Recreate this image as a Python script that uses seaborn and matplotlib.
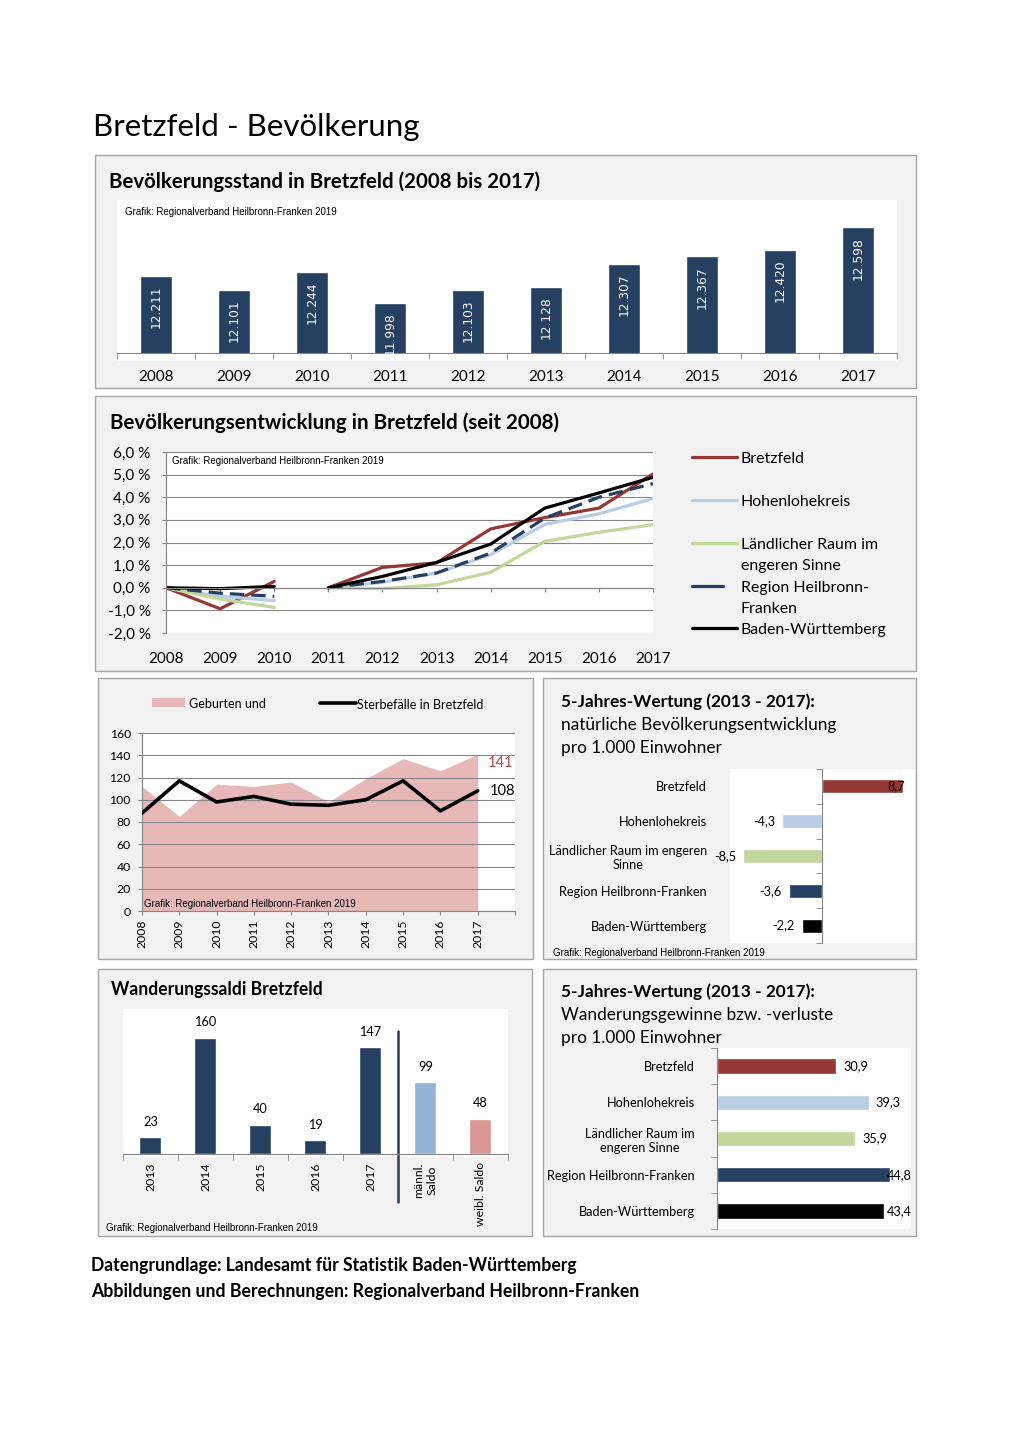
import numpy as np
import matplotlib
matplotlib.use("Agg")
import matplotlib.pyplot as plt
import seaborn as sns
from matplotlib.patches import Rectangle
from matplotlib.lines import Line2D

# ---------------- data ----------------
years = ['2008', '2009', '2010', '2011', '2012', '2013', '2014', '2015', '2016', '2017']
population = [12211, 12101, 12244, 11998, 12103, 12128, 12307, 12367, 12420, 12598]

dev_bretzfeld = [0.0, -0.93, 0.28, 0.0, 0.90, 1.10, 2.60, 3.10, 3.52, 5.03]
dev_hohenlohe = [0.0, -0.38, -0.57, 0.0, 0.24, 0.65, 1.46, 2.80, 3.27, 3.94]
dev_laendlich = [0.0, -0.50, -0.87, 0.0, -0.04, 0.13, 0.68, 2.05, 2.45, 2.79]
dev_region = [0.0, -0.24, -0.38, 0.0, 0.28, 0.65, 1.53, 3.08, 4.00, 4.60]
dev_bw = [0.0, -0.04, 0.06, 0.0, 0.50, 1.12, 1.93, 3.52, 4.19, 4.88]
dev_ticks = [-2, -1, 0, 1, 2, 3, 4, 5, 6]

births = [112, 85, 114, 112, 116, 98, 119, 137, 126, 141]
deaths = [88, 117, 98, 103, 96, 95, 100, 117, 90, 108]

natural_labels = ['Bretzfeld', 'Hohenlohekreis', 'Ländlicher Raum im engeren\nSinne',
                  'Region Heilbronn-Franken', 'Baden-Württemberg']
natural_balance = [8.7, -4.3, -8.5, -3.6, -2.2]

migration_labels = ['2013', '2014', '2015', '2016', '2017', 'männl.\nSaldo', 'weibl. Saldo']
migration_values = [23, 160, 40, 19, 147, 99, 48]

rate_labels = ['Bretzfeld', 'Hohenlohekreis', 'Ländlicher Raum im\nengeren Sinne',
               'Region Heilbronn-Franken', 'Baden-Württemberg']
migration_rate = [30.9, 39.3, 35.9, 44.8, 43.4]

legend_labels = ['Bretzfeld', 'Hohenlohekreis', 'Ländlicher Raum im\nengeren Sinne',
                 'Region Heilbronn-\nFranken', 'Baden-Württemberg']

# ---------------- style ----------------
RED = '#953735'
LBLUE = '#b9cde5'
GREEN = '#c3d69b'
NAVY = '#254061'
BLACK = '#000000'
PINK = '#e6b9b8'
GRAY = '#868686'
PANEL = '#f2f2f2'
region_colors = [RED, LBLUE, GREEN, NAVY, BLACK]
mig_colors = [NAVY] * 5 + ['#95b3d7', '#d99694']

sns.set_style("white")
plt.rcParams['font.family'] = ['Lato', 'DejaVu Sans']
plt.rcParams['text.color'] = 'black'
plt.rcParams['xtick.color'] = 'black'
plt.rcParams['ytick.color'] = 'black'

W, H = 1020, 1443
fig = plt.figure(figsize=(W / 100, H / 100), dpi=100)
fig.patch.set_facecolor('white')
renderer = fig.canvas.get_renderer()


def fx(x):
    return x / W


def fy(y):
    return 1 - y / H


def add_ax(x0, y0, x1, y1):
    ax = fig.add_axes([fx(x0), fy(y1), (x1 - x0) / W, (y1 - y0) / H])
    ax.set_facecolor('white')
    return ax


def rect(x0, y0, x1, y1, fc, ec='none', z=-2):
    fig.add_artist(Rectangle((fx(x0), fy(y1)), (x1 - x0) / W, (y1 - y0) / H,
                             transform=fig.transFigure, fc=fc, ec=ec, lw=1, zorder=z))


def ftext(x, y, s, size=10, width=None, dy=2, **kw):
    kw.setdefault('va', 'center')
    t = fig.text(fx(x), fy(y + dy), s, fontsize=size, **kw)
    if width:
        w = t.get_window_extent(renderer).width
        t.set_fontsize(size * width / w)
    return t


def grafik(x, y):
    return ftext(x, y, 'Grafik: Regionalverband Heilbronn-Franken 2019', size=7, width=213,
                 dy=1, family=['Liberation Sans', 'DejaVu Sans'])


def comma(v, d=1):
    return f"{v:.{d}f}".replace('.', ',')


# ---------------- panels background ----------------
rect(95, 155, 916, 388, PANEL, '#a6a6a6')
rect(95, 396, 916, 671, PANEL, '#a6a6a6')
rect(98, 678, 533, 959, PANEL, '#a6a6a6')
rect(543, 678, 916, 959, PANEL, '#a6a6a6')
rect(98, 969, 532, 1236, PANEL, '#a6a6a6')
rect(543, 969, 916, 1236, PANEL, '#a6a6a6')
rect(117, 200, 897, 361, 'white', z=-1)
rect(123, 1009, 508, 1157, 'white', z=-1)

# ---------------- titles ----------------
ftext(93, 124, 'Bretzfeld - Bevölkerung', size=22, width=326, dy=3)
ftext(109, 180, 'Bevölkerungsstand in Bretzfeld (2008 bis 2017)', size=14, width=433, weight='bold')
ftext(110, 421, 'Bevölkerungsentwicklung in Bretzfeld (seit 2008)', size=14, width=452, weight='bold')
t = ftext(561, 700, '5-Jahres-Wertung (2013 - 2017):', size=12, width=252, weight='bold')
s5 = t.get_fontsize()
ftext(561, 723, 'natürliche Bevölkerungsentwicklung', size=s5)
ftext(561, 746, 'pro 1.000 Einwohner', size=s5)
ftext(111, 988, 'Wanderungssaldi Bretzfeld', size=12, width=211, weight='bold')
ftext(561, 990, '5-Jahres-Wertung (2013 - 2017):', size=s5, weight='bold')
ftext(561, 1013, 'Wanderungsgewinne bzw. -verluste', size=s5)
ftext(561, 1036, 'pro 1.000 Einwohner', size=s5)
t = ftext(91, 1264, 'Datengrundlage: Landesamt für Statistik Baden-Württemberg', size=12, width=484, weight='bold')
ftext(91, 1289, 'Abbildungen und Berechnungen: Regionalverband Heilbronn-Franken', size=t.get_fontsize(), weight='bold')

# ---------------- Panel A: population bars ----------------
axA = add_ax(117, 201, 897, 353)
sns.barplot(x=years, y=population, color=NAVY, width=0.4, saturation=1, ax=axA)
axA.set_ylim(11600, 12808)
axA.set_xlim(-0.5, 9.5)
for s in ['top', 'right', 'left']:
    axA.spines[s].set_visible(False)
axA.spines['bottom'].set_color(GRAY)
axA.set_yticks([])
axA.set_xticks(range(10), years)
axA.set_xticks(np.arange(-0.5, 10, 1), minor=True)
axA.tick_params(axis='x', which='major', length=0, pad=12, labelsize=11)
axA.tick_params(axis='x', which='minor', bottom=True, length=4, color=GRAY, direction='out')
axA.set_xlabel('')
axA.set_ylabel('')
for i, v in enumerate(population):
    axA.annotate(f"{v:,}".replace(',', '.'), (i, v), xytext=(0, -7), textcoords='offset points',
                 rotation=90, ha='center', va='top', color='white', fontsize=8.8,
                 family=['DejaVu Sans'])
grafik(125, 211)

# ---------------- Panel B: development lines ----------------
axB = add_ax(166, 452, 653, 633)
x_idx = np.arange(10)
DASH = (0, (4.5, 2.2))
series = [(dev_bretzfeld, RED, '-'), (dev_hohenlohe, LBLUE, '-'), (dev_laendlich, GREEN, '-'),
          (dev_region, NAVY, DASH), (dev_bw, BLACK, '-')]
for vals, col, ls in series:
    arr = np.array(vals)
    for seg in (slice(0, 3), slice(3, 10)):
        sns.lineplot(x=x_idx[seg], y=arr[seg], color=col, linewidth=2.3, linestyle=ls, ax=axB)
axB.set_ylim(-2, 6)
axB.set_xlim(0, 9)
axB.set_yticks(dev_ticks, [comma(v) + ' %' for v in dev_ticks])
axB.set_xticks(range(10), years)
axB.yaxis.grid(True, color=GRAY, lw=0.8)
axB.set_axisbelow(True)
for s in ['top', 'right']:
    axB.spines[s].set_visible(False)
axB.spines['left'].set_color(GRAY)
axB.spines['bottom'].set_color(GRAY)
axB.spines['bottom'].set_position(('data', 0))
axB.tick_params(axis='y', left=True, length=3, color=GRAY, pad=8, labelsize=11)
axB.tick_params(axis='x', bottom=True, length=3, color=GRAY, pad=43, labelsize=11)
axB.set_xlabel('')
axB.set_ylabel('')
grafik(172, 460)

# legend (manual, Excel-like layout)
leg_y = [457, 500, 543, 586, 628]
t = ftext(741, 628, 'Baden-Württemberg', size=11, width=145)
lsize = t.get_fontsize()
for (vals, col, ls), lab, yy in zip(series, legend_labels, leg_y):
    x2 = 723 if ls != '-' else 737
    fig.add_artist(Line2D([fx(692), fx(x2)], [fy(yy), fy(yy)], color=col, lw=2.3,
                          transform=fig.transFigure))
    lines = lab.split('\n')
    for k, ln in enumerate(lines):
        if ln == 'Baden-Württemberg':
            continue
        ftext(741, yy + 21 * k, ln, size=lsize)

# ---------------- Panel C: births / deaths ----------------
axC = add_ax(142, 733, 515, 911)
axC.fill_between(x_idx, 0, births, color=PINK, lw=0, zorder=1)
sns.lineplot(x=x_idx, y=deaths, color='black', linewidth=2.6, ax=axC, zorder=3)
axC.set_ylim(0, 160)
axC.set_xlim(0, 10)
axC.set_yticks(range(0, 161, 20))
axC.set_xticks(range(11), years + [''])
axC.yaxis.grid(True, color=GRAY, lw=0.8)
axC.set_axisbelow('line')
for s in ['top', 'right']:
    axC.spines[s].set_visible(False)
axC.spines['left'].set_color(GRAY)
axC.spines['bottom'].set_color(GRAY)
axC.tick_params(axis='y', left=True, length=3, color=GRAY, pad=5, labelsize=8.8)
axC.tick_params(axis='x', bottom=True, length=3, color=GRAY, pad=3, labelsize=8.8, labelrotation=90)
axC.set_xlabel('')
axC.set_ylabel('')
axC.annotate(str(births[-1]), (9, births[-1]), xytext=(7, -6.5), textcoords='offset points',
             ha='left', va='center', color='#b94a48', fontsize=10.5, annotation_clip=False)
axC.annotate(str(deaths[-1]), (9, deaths[-1]), xytext=(8.5, 0), textcoords='offset points',
             ha='left', va='center', color='black', fontsize=10.5, annotation_clip=False)
grafik(144, 903)
# legend
rect(152, 698, 185, 707, PINK, z=1)
ftext(189, 702, 'Geburten und', size=9)
fig.add_artist(Line2D([fx(320), fx(356)], [fy(703), fy(703)], color='black', lw=2.6,
                      transform=fig.transFigure))
ftext(357, 703, 'Sterbefälle in Bretzfeld', size=9)

# ---------------- Panel D: natural balance ----------------
axD = add_ax(730, 769, 915, 943)
sns.barplot(x=natural_balance, y=natural_labels, hue=natural_labels, palette=region_colors,
            orient='h', width=0.4, saturation=1, legend=False, ax=axD)
axD.set_xlim(-9.95, 10.05)
axD.set_ylim(4.5, -0.5)
for s in ['top', 'right', 'bottom']:
    axD.spines[s].set_visible(False)
axD.spines['left'].set_color(GRAY)
axD.spines['left'].set_position(('data', 0))
axD.set_xticks([])
axD.set_yticks(range(5), natural_labels)
axD.set_yticks(np.arange(-0.5, 5, 1), minor=True)
axD.tick_params(axis='y', which='major', length=0, pad=83, labelsize=9.2)
axD.tick_params(axis='y', which='minor', left=True, length=4, color=GRAY)
for tl in axD.get_yticklabels():
    tl.set_multialignment('center')
axD.set_xlabel('')
axD.set_ylabel('')
for i, v in enumerate(natural_balance):
    off = 2 if v > 0 else -5
    axD.annotate(comma(v), (v, i), xytext=(off, 0), textcoords='offset points',
                 ha='right', va='center', fontsize=9.2, annotation_clip=False)
grafik(553, 952)

# ---------------- Panel E: migration balance ----------------
axE = add_ax(123, 1009, 508, 1154)
sns.barplot(x=migration_labels, y=migration_values, hue=migration_labels, palette=mig_colors,
            width=0.4, saturation=1, legend=False, ax=axE)
axE.set_ylim(0, 200)
axE.set_xlim(-0.5, 6.5)
for s in ['top', 'right', 'left']:
    axE.spines[s].set_visible(False)
axE.spines['bottom'].set_color(GRAY)
axE.set_yticks([])
axE.set_xticks(range(7), migration_labels)
axE.set_xticks(np.arange(-0.5, 7, 1), minor=True)
axE.tick_params(axis='x', which='major', length=0, pad=6, labelsize=8.8, labelrotation=90)
axE.tick_params(axis='x', which='minor', bottom=True, length=4, color=GRAY)
for tl in axE.get_xticklabels():
    tl.set_multialignment('center')
axE.set_xlabel('')
axE.set_ylabel('')
for i, v in enumerate(migration_values):
    axE.annotate(str(v), (i, v), xytext=(0, 7), textcoords='offset points',
                 ha='center', va='bottom', fontsize=9.2)
axE.plot([4.5, 4.5], [170, -66], color=NAVY, lw=1.8, clip_on=False)
grafik(106, 1227)

# ---------------- Panel F: migration rate ----------------
axF = add_ax(717, 1048, 911, 1229)
sns.barplot(x=migration_rate, y=rate_labels, hue=rate_labels, palette=region_colors,
            orient='h', width=0.42, saturation=1, legend=False, ax=axF)
axF.set_xlim(0, 50.3)
axF.set_ylim(4.5, -0.5)
for s in ['top', 'right', 'bottom']:
    axF.spines[s].set_visible(False)
axF.spines['left'].set_color(GRAY)
axF.set_xticks([])
axF.set_yticks(range(5), rate_labels)
axF.set_yticks(np.arange(-0.5, 5, 1), minor=True)
axF.tick_params(axis='y', which='major', length=0, pad=16, labelsize=9.2)
axF.tick_params(axis='y', which='minor', left=True, length=4, color=GRAY)
for tl in axF.get_yticklabels():
    tl.set_multialignment('center')
axF.set_xlabel('')
axF.set_ylabel('')
for i, v in enumerate(migration_rate):
    axF.annotate(comma(v), (min(v, 42.3), i), xytext=(5, 0), textcoords='offset points',
                 ha='left', va='center', fontsize=9.2, annotation_clip=False)

fig.savefig('out.png', dpi=100, facecolor='white')
